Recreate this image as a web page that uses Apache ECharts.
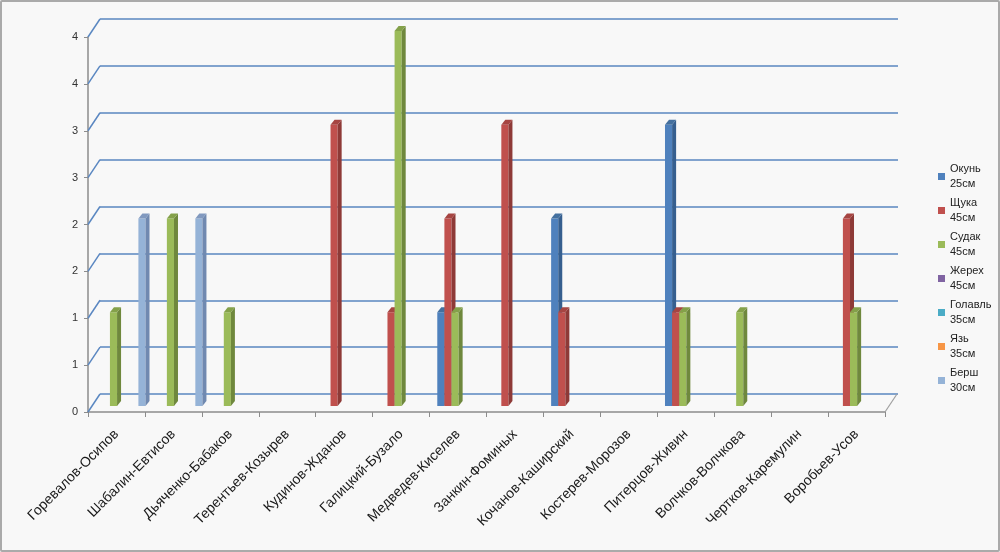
<!DOCTYPE html>
<html><head><meta charset="utf-8">
<script src="https://cdn.jsdelivr.net/npm/echarts@6/dist/echarts.min.js"></script>
<style>
html,body{margin:0;padding:0;background:#f8f8f8;}
#wrap{position:relative;width:1000px;height:552px;}
#chart{width:1000px;height:552px;}
#frame{position:absolute;left:0;top:0;width:1000px;height:552px;box-sizing:border-box;border:2px solid #aaaaaa;border-radius:2px;pointer-events:none;}
</style></head><body>
<div id="wrap"><div id="chart"></div><div id="frame"></div></div>
<script>
const categories = ['Горевалов-Осипов','Шабалин-Евтисов','Дьяченко-Бабаков','Терентьев-Козырев','Кудинов-Жданов','Галицкий-Бузало','Медведев-Киселев','Занкин-Фоминых','Кочанов-Каширский','Костерев-Морозов','Питерцов-Живин','Волчков-Волчкова','Чертков-Каремулин','Воробьев-Усов'];
const fish = ['Окунь','Щука','Судак','Жерех','Голавль','Язь','Берш'];
const fishSizes = ['25см','45см','45см','45см','35см','35см','30см'];
const okun    = [null,null,null,null,null,null,1,null,2,null,3,null,null,null];
const shchuka = [null,null,null,null,3,1,2,3,1,null,1,null,null,2];
const sudak   = [1,2,1,null,null,4,1,null,null,null,1,1,null,1];
const zherekh = [null,null,null,null,null,null,null,null,null,null,null,null,null,null];
const golavl  = [null,null,null,null,null,null,null,null,null,null,null,null,null,null];
const yaz     = [null,null,null,null,null,null,null,null,null,null,null,null,null,null];
const bersh   = [2,2,null,null,null,null,null,null,null,null,null,null,null,null];
const yTicks = [0,0.5,1,1.5,2,2.5,3,3.5,4];

const seriesValues = [okun, shchuka, sudak, zherekh, golavl, yaz, bersh];
const faceColors = ['#4F81BD','#C0504D','#9BBB59','#8064A2','#4BACC6','#F79646','#95B3D7'];
const sideColors = ['#365F8F','#8E3A37','#6F883D','#5C4876','#327F93','#B86E2F','#7089B0'];
const topColors  = ['#44709F','#A64542','#84A14A','#6E568C','#3E95AC','#D7823D','#8199BF'];
const DX = 12, DY = -18;       // wall depth offset (px)
const BDX = 4, BDY = -5;       // bar depth offset (px)
const BAR_START = 0.03, BAR_W = 0.125;
const gridColor = '#5A87C1';

const chart = echarts.init(document.getElementById('chart'), null, {renderer:'canvas'});

function valAxis(idx, showLabels, showSplit) {
  return {
    type:'value', gridIndex:idx, min:0, max:4, interval:0.5,
    axisLine:{show:showLabels, lineStyle:{color:'#8c8c8c', width:1.5}},
    axisTick:{show:showLabels, length:4, lineStyle:{color:'#8c8c8c'}},
    axisLabel:{show:showLabels, color:'#333', fontSize:11, fontFamily:'Liberation Sans', margin:10,
      formatter:v=>String(Math.round(v))},
    splitLine:{show:showSplit, lineStyle:{color:gridColor, width:1.5}}
  };
}
function catAxis(idx, show) {
  return {
    type:'category', gridIndex:idx, data:categories, boundaryGap:true,
    axisLine:{show:show, lineStyle:{color:'#8c8c8c', width:1.5}},
    axisTick:{show:show, length:5, lineStyle:{color:'#8c8c8c'}},
    axisLabel:{show:show, rotate:45, interval:0, color:'#1a1a1a', fontSize:14, fontFamily:'Liberation Sans', margin:20},
    splitLine:{show:false}
  };
}

const series = [];
series.push({
  type:'custom', xAxisIndex:0, yAxisIndex:0, silent:true, z:1,
  data: yTicks.map(v=>[0,v]),
  renderItem:(params, api)=>{
    const p = api.coord([api.value(0), api.value(1)]);
    const w = api.size([1,0])[0];
    const x = p[0] - w/2;
    return {type:'line', shape:{x1:x, y1:p[1], x2:x+DX, y2:p[1]+DY}, style:{stroke:gridColor, lineWidth:1.5}};
  }
});
series.push({
  type:'custom', xAxisIndex:0, yAxisIndex:0, silent:true, z:1,
  data: [[categories.length-1, 0]],
  renderItem:(params, api)=>{
    const p = api.coord([api.value(0), api.value(1)]);
    const w = api.size([1,0])[0];
    const x = p[0] + w/2;
    return {type:'line', shape:{x1:x, y1:p[1], x2:x+DX, y2:p[1]+DY}, style:{stroke:'#a0a0a0', lineWidth:1.2}};
  }
});

fish.forEach((name, s)=>{
  series.push({
    type:'custom', name: name + '\n' + fishSizes[s], xAxisIndex:2, yAxisIndex:2, z:5,
    itemStyle:{color:faceColors[s]},
    data: seriesValues[s].map((v,i)=>[i, v]),
    renderItem:(params, api)=>{
      const v = api.value(1);
      if (v === null || v === undefined || isNaN(v) || v === 0) return null;
      const c = api.value(0);
      const base = api.coord([c, 0]);
      const top = api.coord([c, v]);
      const cw = api.size([1,0])[0];
      const x0 = base[0] - cw/2 + cw*(BAR_START + s*BAR_W);
      const w = cw*BAR_W;
      const yT = top[1], yB = base[1];
      return {type:'group', children:[
        {type:'rect', shape:{x:x0, y:yT, width:w, height:yB-yT}, style:{fill:faceColors[s]}},
        {type:'polygon', shape:{points:[[x0+w,yT],[x0+w+BDX,yT+BDY],[x0+w+BDX,yB+BDY],[x0+w,yB]]}, style:{fill:sideColors[s]}},
        {type:'polygon', shape:{points:[[x0,yT],[x0+BDX,yT+BDY],[x0+w+BDX,yT+BDY],[x0+w,yT]]}, style:{fill:topColors[s]}}
      ]};
    }
  });
});

chart.setOption({
  backgroundColor:'#f8f8f8',
  animation:false,
  grid:[
    {left:88, right:115, top:37, bottom:140},
    {left:100, right:102, top:19, bottom:158},
    {left:94, right:109, top:31, bottom:146}
  ],
  xAxis:[catAxis(0,true), catAxis(1,false), catAxis(2,false)],
  yAxis:[valAxis(0,true,false), valAxis(1,false,true), valAxis(2,false,false)],
  legend:{
    orient:'vertical', left:938, top:154, padding:0, itemGap:-11,
    itemWidth:7, itemHeight:7, icon:'rect',
    data: fish.map((f,s)=>f + '\n' + fishSizes[s]),
    textStyle:{color:'#222', fontSize:11, fontFamily:'Liberation Sans', lineHeight:15, padding:[15,0,0,0]}
  },
  series: series
});
</script>
</body></html>
